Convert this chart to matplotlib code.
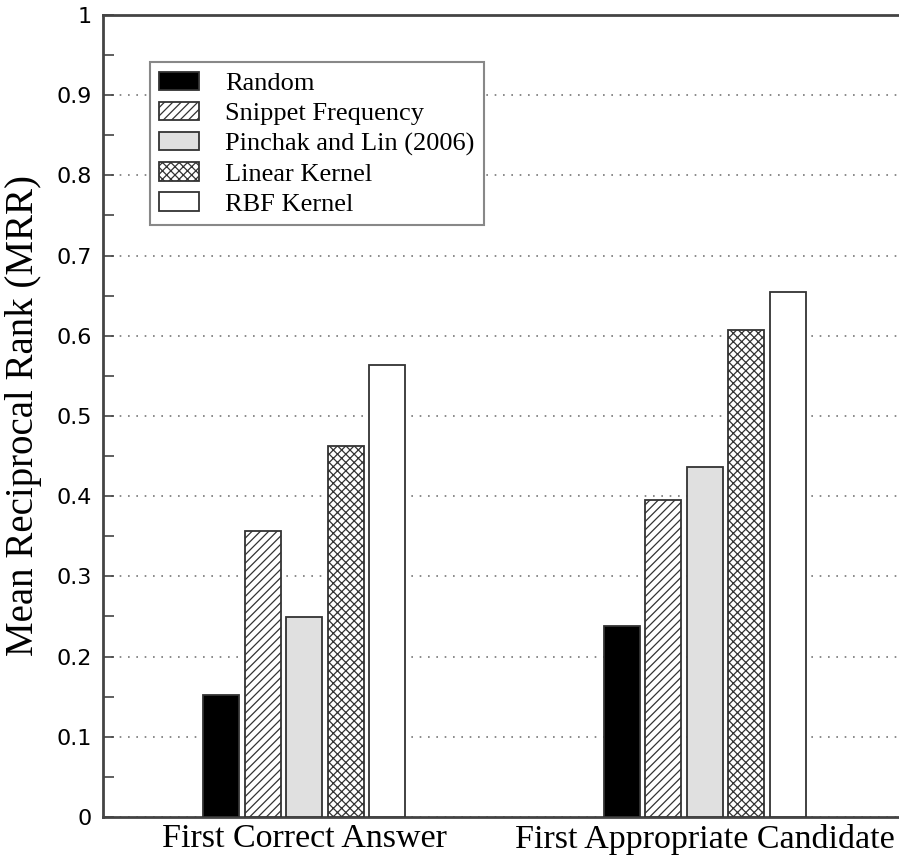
import numpy as np
import matplotlib
matplotlib.use("Agg")
from matplotlib import pyplot as plt
from matplotlib.ticker import MultipleLocator

plt.rcParams['font.family'] = ['Liberation Serif', 'DejaVu Serif']
plt.rcParams['hatch.linewidth'] = 0.9

# 数据
groups = ["First Correct Answer", "First Appropriate Candidate"]
methods = ["Random", "Snippet Frequency", "Pinchak and Lin (2006)",
           "Linear Kernel", "RBF Kernel"]
mrr = {
    "Random": [0.152, 0.238],
    "Snippet Frequency": [0.357, 0.395],
    "Pinchak and Lin (2006)": [0.249, 0.436],
    "Linear Kernel": [0.462, 0.607],
    "RBF Kernel": [0.563, 0.655],
}
ytick_vals = [0, 0.1, 0.2, 0.3, 0.4, 0.5, 0.6, 0.7, 0.8, 0.9, 1]
ytick_labels = ["0", "0.1", "0.2", "0.3", "0.4", "0.5", "0.6", "0.7", "0.8", "0.9", "1"]

# 样式
fills = ["black", "white", "#e0e0e0", "white", "white"]
hatches = [None, "////", None, "xxxx", None]

fig = plt.figure(figsize=(8.99, 8.6), dpi=100)
# 右边框在图片外面（原图被裁掉了）
ax = fig.add_axes([103 / 899, 43 / 860, 803 / 899, 802 / 860])

x = np.arange(len(groups))
pitch = 0.1035
width = 0.09
for i, m in enumerate(methods):
    ax.bar(x + (i - 2) * pitch, mrr[m], width, color=fills[i], hatch=hatches[i],
           edgecolor="#333333", linewidth=1.3, label=m, zorder=3)

ax.set_xlim(-0.502, 1.502)
ax.set_ylim(0, 1)
ax.set_xticks(x)
ax.set_xticklabels(groups, fontsize=24.5)
ax.tick_params(axis="x", length=0, pad=5)

ax.yaxis.set_minor_locator(MultipleLocator(0.05))
ax.set_yticks(ytick_vals)
ax.set_yticklabels(ytick_labels, fontsize=16, family="DejaVu Sans")
ax.tick_params(axis="y", which="both", direction="in", right=False, length=8,
               width=1.2, color="#444444", pad=8)
ax.set_ylabel("Mean Reciprocal Rank (MRR)", fontsize=28, labelpad=10)

ax.grid(axis="y", linestyle=(0, (1, 4)), color="#777777", linewidth=1.2, zorder=0)
for s in ax.spines.values():
    s.set_linewidth(2)
    s.set_color("#444444")
ax.spines["right"].set_visible(False)

leg = ax.legend(loc="upper left", bbox_to_anchor=(0.0585, 0.941), borderaxespad=0,
                fontsize=19, fancybox=False, edgecolor="#888888", framealpha=1,
                handlelength=1.5, handleheight=0.7, handletextpad=1.0,
                labelspacing=0.25, borderpad=0.35)
leg.get_frame().set_linewidth(1.5)
leg.set_zorder(5)

plt.savefig("out.png", dpi=100)
